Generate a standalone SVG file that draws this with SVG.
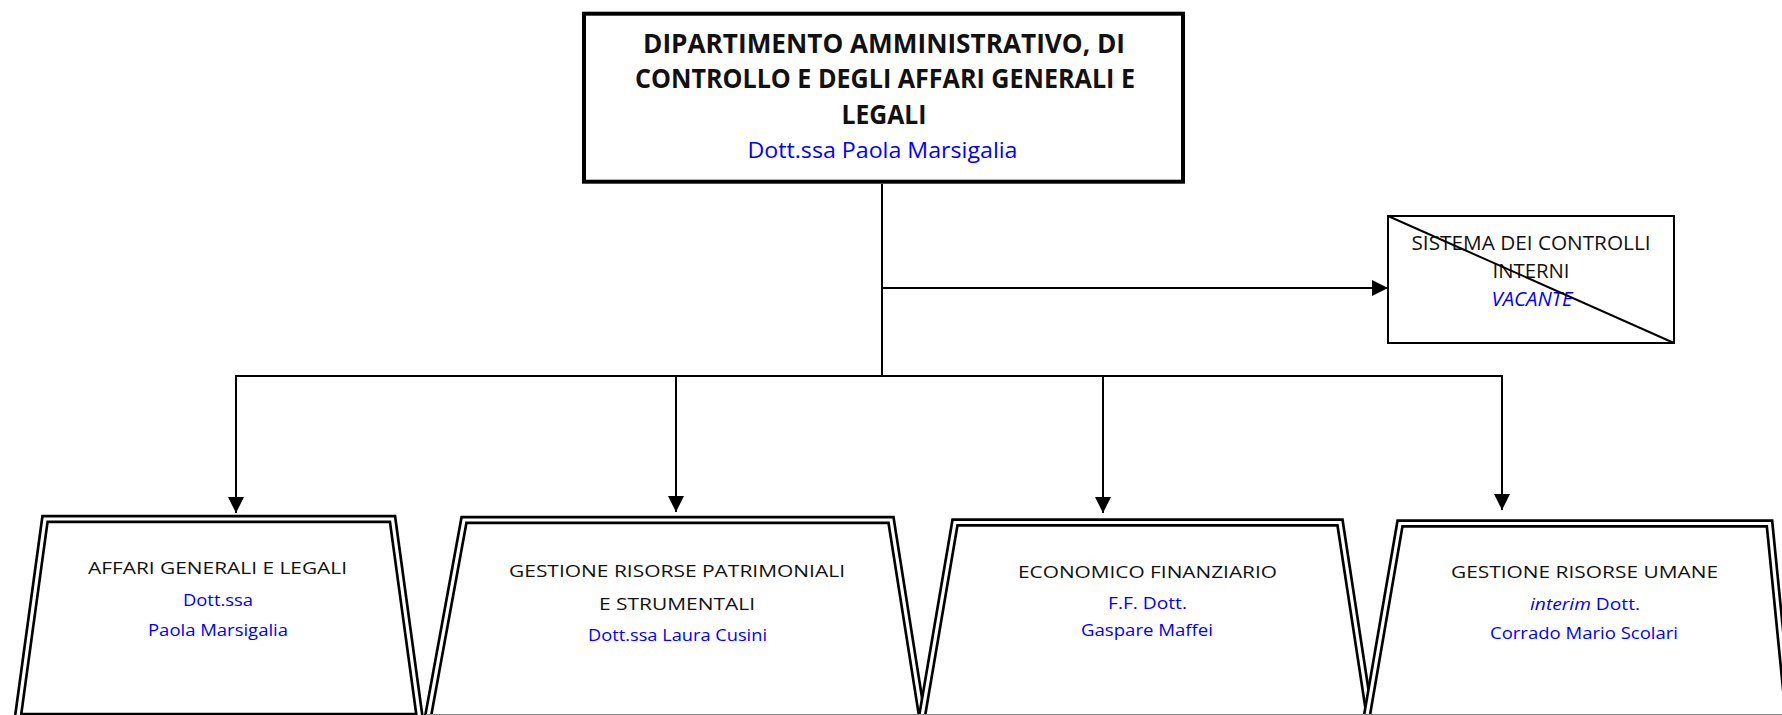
<svg xmlns="http://www.w3.org/2000/svg" width="1782" height="715" viewBox="0 0 1782 715">
<style>
.t{font-family:"Open Sans","Noto Sans","Liberation Sans",sans-serif;text-anchor:middle;fill:#111}
.b{font-weight:bold;font-size:27px}
.s{font-size:17px}
.m{font-size:20px}
.blue{fill:#0000ff}
.it{font-style:italic}
.line{stroke:#000;stroke-width:2;fill:none}
.tout{fill:#fff;stroke:#000;stroke-width:8.5;stroke-linejoin:miter}
.tin{fill:none;stroke:#fff;stroke-width:3.2;stroke-linejoin:miter}
</style>
<defs>
<marker id="ah" markerWidth="8" markerHeight="8" refX="8" refY="4" orient="auto" markerUnits="strokeWidth">
<path d="M0,0 L8,4 L0,8 Z" fill="#000"/>
</marker>
</defs>
<rect width="1782" height="715" fill="#fff"/>

<g id="connectors">
<line class="line" x1="882" y1="184" x2="882" y2="376"/>
<line class="line" x1="882" y1="288" x2="1388" y2="288" marker-end="url(#ah)"/>
<line class="line" x1="235" y1="376" x2="1503" y2="376"/>
<line class="line" x1="236" y1="376" x2="236" y2="513" marker-end="url(#ah)"/>
<line class="line" x1="676" y1="376" x2="676" y2="512" marker-end="url(#ah)"/>
<line class="line" x1="1103" y1="376" x2="1103" y2="513" marker-end="url(#ah)"/>
<line class="line" x1="1502" y1="376" x2="1502" y2="510" marker-end="url(#ah)"/>
</g>

<g id="dipartimento">
<rect x="584" y="13.7" width="599" height="168" fill="#fff" stroke="#000" stroke-width="4"/>
<text class="t b" x="884" y="53" textLength="482" lengthAdjust="spacingAndGlyphs">DIPARTIMENTO AMMINISTRATIVO, DI</text>
<text class="t b" x="885" y="88" textLength="500" lengthAdjust="spacingAndGlyphs">CONTROLLO E DEGLI AFFARI GENERALI E</text>
<text class="t b" x="884" y="124" textLength="85" lengthAdjust="spacingAndGlyphs">LEGALI</text>
<text class="t blue" x="882.5" y="158" font-size="21" textLength="270" lengthAdjust="spacingAndGlyphs">Dott.ssa Paola Marsigalia</text>
</g>

<g id="controlli">
<rect x="1388" y="216" width="286" height="127" fill="#fff" stroke="#000" stroke-width="2"/>
<text class="t m" x="1531" y="250" textLength="239" lengthAdjust="spacingAndGlyphs">SISTEMA DEI CONTROLLI</text>
<text class="t m" x="1531" y="278" textLength="77" lengthAdjust="spacingAndGlyphs">INTERNI</text>
<text class="t m blue it" x="1532" y="306" textLength="81" lengthAdjust="spacingAndGlyphs">VACANTE</text>
<line x1="1388" y1="216" x2="1674" y2="343" stroke="#000" stroke-width="2"/>
</g>

<g id="affari">
<polygon class="tout" points="45,519 392.5,519 419.6,717 17.9,717"/>
<polygon class="tin" points="45,519 392.5,519 419.6,717 17.9,717"/>
<text class="t s" x="217.5" y="574" textLength="259" lengthAdjust="spacingAndGlyphs">AFFARI GENERALI E LEGALI</text>
<text class="t s blue" x="218" y="606" textLength="70" lengthAdjust="spacingAndGlyphs">Dott.ssa</text>
<text class="t s blue" x="218" y="636" textLength="140" lengthAdjust="spacingAndGlyphs">Paola Marsigalia</text>
</g>

<g id="patrimoniali">
<polygon class="tout" points="464,520 891,520 928.9,760 420.1,760"/>
<polygon class="tin" points="464,520 891,520 928.9,760 420.1,760"/>
<text class="t s" x="677" y="577" textLength="336" lengthAdjust="spacingAndGlyphs">GESTIONE RISORSE PATRIMONIALI</text>
<text class="t s" x="677" y="610" textLength="156" lengthAdjust="spacingAndGlyphs">E STRUMENTALI</text>
<text class="t s blue" x="677.5" y="641" textLength="179" lengthAdjust="spacingAndGlyphs">Dott.ssa Laura Cusini</text>
</g>

<g id="economico">
<polygon class="tout" points="955,522.5 1340,522.5 1376.3,760 914.6,760"/>
<polygon class="tin" points="955,522.5 1340,522.5 1376.3,760 914.6,760"/>
<text class="t s" x="1147.5" y="578" textLength="259" lengthAdjust="spacingAndGlyphs">ECONOMICO FINANZIARIO</text>
<text class="t s blue" x="1147.5" y="609" textLength="79" lengthAdjust="spacingAndGlyphs">F.F. Dott.</text>
<text class="t s blue" x="1147" y="636" textLength="132" lengthAdjust="spacingAndGlyphs">Gaspare Maffei</text>
</g>

<g id="umane">
<polygon class="tout" points="1400,523.5 1769.5,523.5 1793,760 1359.3,760"/>
<polygon class="tin" points="1400,523.5 1769.5,523.5 1793,760 1359.3,760"/>
<text class="t s" x="1584.5" y="578" textLength="267" lengthAdjust="spacingAndGlyphs">GESTIONE RISORSE UMANE</text>
<text class="t s blue" x="1585" y="610" textLength="110" lengthAdjust="spacingAndGlyphs"><tspan class="it">interim</tspan> Dott.</text>
<text class="t s blue" x="1584" y="639" textLength="188" lengthAdjust="spacingAndGlyphs">Corrado Mario Scolari</text>
</g>

<line x1="426" y1="714.5" x2="1782" y2="714.5" stroke="#888" stroke-width="1"/>
</svg>
